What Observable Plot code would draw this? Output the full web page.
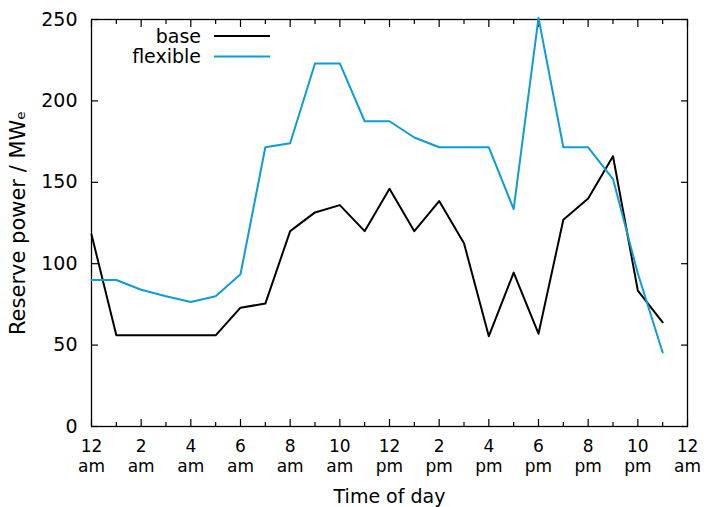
<!DOCTYPE html>
<html>
<head>
<meta charset="utf-8">
<script src="https://cdn.jsdelivr.net/npm/d3@7"></script>
<script src="https://cdn.jsdelivr.net/npm/@observablehq/plot@0.6"></script>
<style>
html, body { margin: 0; padding: 0; background: #ffffff; }
</style>
</head>
<body>
<div id="chart"></div>
<script>
// ---- data ----
const hours = [0, 1, 2, 3, 4, 5, 6, 7, 8, 9, 10, 11, 12, 13, 14, 15, 16, 17, 18, 19, 20, 21, 22, 23];
const base = [118, 56, 56, 56, 56, 56, 73, 75.5, 120, 131.5, 136, 120, 146, 120, 138.5, 112.5, 55.5, 94.5, 57, 127, 140, 166, 83.5, 64];
const flexible = [90, 90, 84, 80, 76.5, 80, 93.5, 171.5, 174, 223, 223, 187.5, 187.5, 177.5, 171.5, 171.5, 171.5, 133.5, 251, 171.5, 171.5, 152, 94, 45.5];
const seriesNames = ["base", "flexible"];
const seriesColors = ["#000000", "#0d9dd5"];
const xTicks = [0, 2, 4, 6, 8, 10, 12, 14, 16, 18, 20, 22, 24];
const xMinorTicks = [1, 3, 5, 7, 9, 11, 13, 15, 17, 19, 21, 23];
const xTickLabels = ["12\nam", "2\nam", "4\nam", "6\nam", "8\nam", "10\nam", "12\npm", "2\npm", "4\npm", "6\npm", "8\npm", "10\npm", "12\nam"];
const yTicks = [0, 50, 100, 150, 200, 250];
const xTitle = "Time of day";
const yTitle = "Reserve power / MWₑ";

// ---- long table for Plot ----
const rows = [];
hours.forEach((h, i) => {
  rows.push({hour: h, value: base[i], series: "base"});
  rows.push({hour: h, value: flexible[i], series: "flexible"});
});

const font = "DejaVu Sans";

// legend drawn inside the frame (top-left)
const legend = (index, scales, values, dims) => {
  const g = d3.create("svg:g").attr("font-family", font).attr("font-size", 19);
  seriesNames.forEach((name, i) => {
    const y = dims.marginTop + 17 + i * 20.5;
    g.append("text")
      .attr("x", dims.marginLeft + 110).attr("y", y).attr("dy", "0.35em")
      .attr("text-anchor", "end").attr("fill", "black").text(name);
    g.append("line")
      .attr("x1", dims.marginLeft + 123).attr("x2", dims.marginLeft + 179)
      .attr("y1", y).attr("y2", y)
      .attr("stroke", scales.color(name)).attr("stroke-width", 2);
  });
  return g.node();
};

const chart = Plot.plot({
  width: 708,
  height: 507,
  marginLeft: 91,
  marginRight: 21,
  marginTop: 19,
  marginBottom: 81,
  style: {fontFamily: font, fontSize: "19px", background: "white", color: "black", overflow: "visible"},
  x: {domain: [0, 24]},
  y: {domain: [0, 250]},
  color: {domain: seriesNames, range: seriesColors},
  marks: [
    // inward tick marks (bottom/top majors + minors, left/right)
    Plot.axisX({anchor: "bottom", ticks: xTicks, tickSize: 7, dy: -7, tickFormat: () => "", label: null, strokeWidth: 1.2}),
    Plot.axisX({anchor: "bottom", ticks: xMinorTicks, tickSize: 4, dy: -4, tickFormat: () => "", label: null, strokeWidth: 1.2}),
    Plot.axisX({anchor: "top", ticks: xTicks, tickSize: 7, dy: 7, tickFormat: () => "", label: null, strokeWidth: 1.2}),
    Plot.axisX({anchor: "top", ticks: xMinorTicks, tickSize: 4, dy: 4, tickFormat: () => "", label: null, strokeWidth: 1.2}),
    Plot.axisY({anchor: "left", ticks: yTicks, tickSize: 7, dx: 7, tickFormat: () => "", label: null, strokeWidth: 1.2}),
    Plot.axisY({anchor: "right", ticks: yTicks, tickSize: 7, dx: -7, tickFormat: () => "", label: null, strokeWidth: 1.2}),
    // tick labels
    Plot.axisX({anchor: "bottom", ticks: xTicks, tickSize: 0, tickPadding: 11, lineHeight: 1.18, fontSize: 17,
      tickFormat: (d, i) => xTickLabels[i], label: null}),
    Plot.axisY({anchor: "left", ticks: yTicks, tickSize: 0, tickPadding: 14, label: null}),
    // axis titles
    Plot.text([xTitle], {frameAnchor: "bottom", text: d => d, textAnchor: "middle", lineAnchor: "middle", dy: 70, fontSize: 19, fill: "black"}),
    Plot.text([yTitle], {frameAnchor: "left", text: d => d, rotate: -90, textAnchor: "middle", lineAnchor: "middle", dx: -73, fontSize: 21, fill: "black"}),
    Plot.frame({stroke: "black", strokeWidth: 1.3}),
    Plot.line(rows, {x: "hour", y: "value", z: "series", stroke: "series", strokeWidth: 2, clip: false}),
    legend
  ]
});

document.getElementById("chart").appendChild(chart);
</script>
</body>
</html>
